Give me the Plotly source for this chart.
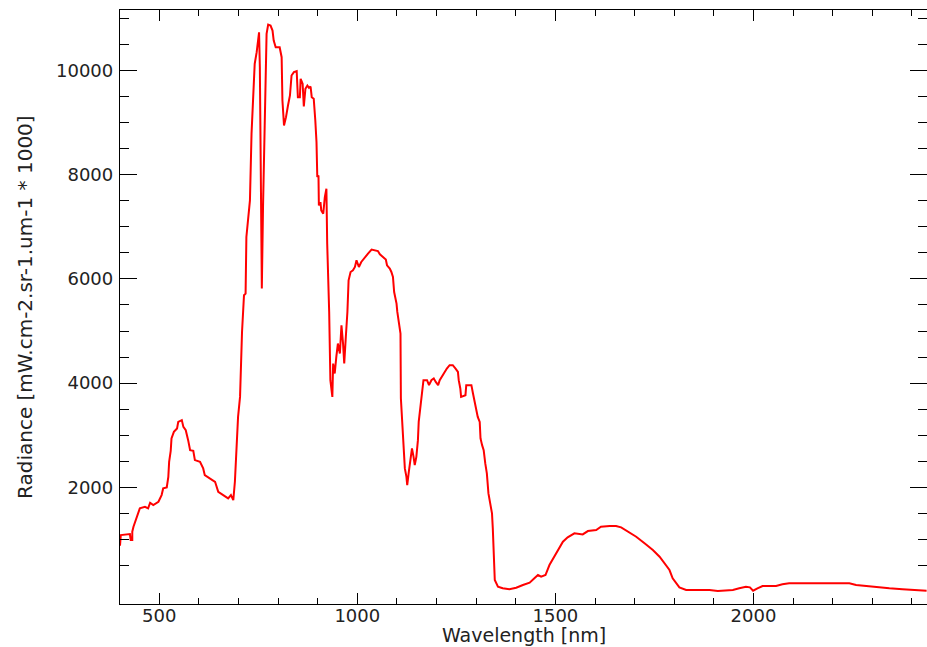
import plotly.graph_objects as go

# Wavelength (nm) and radiance values
wavelength = [401, 403, 426, 428, 432, 432, 435, 443, 451, 464, 472, 477, 485, 498, 506, 510, 519, 523, 525, 529, 531, 537, 545, 548, 557, 561, 567, 573, 578, 586, 590, 603, 611, 615, 628, 641, 649, 661, 674, 681, 687,
              691, 695, 699, 704, 705, 709, 714, 718, 720, 724, 729, 733, 737, 741, 746, 750, 752, 754, 757, 759, 762, 767, 771, 775, 781, 786, 789, 794, 804, 809, 811, 815, 820, 825, 830, 834, 840, 847, 850, 855, 857, 862, 865, 869, 874, 878, 882, 885, 890, 894, 897, 899, 902, 903, 907, 909, 914, 918, 922, 924, 929, 932, 937,
              939, 943, 947, 951, 956, 960, 964, 967, 971, 975, 978, 983, 989, 994, 998, 1004, 1010, 1019, 1027, 1036, 1044, 1052, 1057, 1065, 1072, 1075, 1082, 1086, 1090, 1093, 1099, 1101, 1105, 1109, 1110, 1115, 1120, 1124, 1126, 1130, 1134, 1138, 1142, 1145, 1149, 1153, 1155, 1160, 1164, 1167, 1176, 1181, 1187, 1193, 1198, 1204, 1208, 1215, 1220, 1226, 1233, 1241, 1248, 1254, 1256, 1260, 1262, 1267, 1273, 1275, 1288, 1292, 1296, 1300, 1304, 1309, 1311, 1315, 1319, 1323, 1327, 1331, 1336, 1340, 1342, 1344, 1347, 1355, 1367, 1384, 1401, 1418, 1435, 1447, 1456, 1464, 1475, 1485, 1502, 1519, 1531, 1548, 1569, 1582, 1603, 1615, 1637, 1653, 1666, 1683, 1704, 1725, 1746, 1763, 1775, 1788, 1796, 1813, 1830, 1855, 1889, 1910, 1931, 1948, 1964, 1981, 1991, 1999, 2010, 2023, 2057, 2073, 2090, 2242, 2259, 2284, 2309, 2343, 2376, 2401, 2437]
radiance = [880, 1085, 1104, 990, 990, 1150, 1244, 1405, 1597, 1628, 1597, 1704, 1660, 1723, 1852, 1980, 2000, 2203, 2490, 2701, 2939, 3065, 3130, 3257, 3290, 3161, 3098, 2906, 2714, 2700, 2523, 2490, 2364, 2235, 2172, 2107, 1915, 1852, 1789, 1852, 1756,
            2107, 2682, 3353, 3736, 4100, 4982, 5686, 5718, 6804, 7156, 7507, 8786, 9583, 10127, 10350, 10702, 10733, 10062, 7315, 5814, 7378, 8912, 10702, 10881, 10862, 10766, 10574, 10446, 10446, 10254, 9424, 8945, 9104, 9328, 9520, 9903, 9967, 9986, 9487, 9487, 9840, 9744, 9309, 9648, 9711, 9667, 9692, 9487, 9457, 9040, 8625, 7954, 7986, 7411, 7474, 7315, 7252, 7570, 7731, 6677, 5366, 4056, 3736,
            4376, 4185, 4503, 4760, 4568, 5111, 4760, 4376, 4886, 5366, 5973, 6133, 6165, 6229, 6357, 6229, 6325, 6420, 6485, 6562, 6549, 6535, 6472, 6420, 6370, 6261, 6198, 6133, 6037, 5749, 5527, 5366, 5143, 4952, 3706, 3035, 2364, 2203, 2044, 2299, 2555, 2747, 2586, 2427, 2586, 2906, 3257, 3545, 3865, 4056, 4056, 3961, 4056, 4088, 4024, 3961, 4056, 4152, 4216, 4280, 4344, 4344, 4280, 4216, 4056, 3897, 3736, 3750, 3769, 3961, 3961, 3801, 3640, 3514, 3353, 3257, 2939, 2810, 2714, 2459, 2268, 1884, 1700, 1500, 1213, 797, 222, 94, 63, 44, 75, 127, 171, 255, 318, 286, 318, 510, 734, 957, 1041, 1118, 1098, 1162, 1181, 1244, 1258, 1258, 1233, 1148, 1052, 926, 797, 669, 542, 414, 255, 82, 31, 31, 31, 10, 17, 31, 63, 94, 82, 17, 63, 107, 107, 140, 159, 159, 127, 107, 82, 63, 44, 31, 17]

x_ticks = [500, 1000, 1500, 2000]
y_ticks = [2000, 4000, 6000, 8000, 10000]
x_minor = list(range(500, 2500, 100))
y_minor = list(range(500, 11500, 500))

fig = go.Figure()
fig.add_trace(go.Scatter(x=wavelength, y=radiance, mode="lines",
                         line=dict(color="#ff0000", width=2),
                         showlegend=False, hoverinfo="skip"))

tickfont = dict(family="DejaVu Sans", size=18, color="#222222")
axis_common = dict(showline=True, linecolor="black", linewidth=1.3, mirror="ticks",
                   ticks="inside", tickcolor="black", tickwidth=1.3,
                   showgrid=False, zeroline=False, tickfont=tickfont)

fig.update_xaxes(range=[401, 2438], tickmode="array", tickvals=x_ticks,
                 ticktext=[str(v) for v in x_ticks], ticklen=11,
                 minor=dict(tickmode="array", tickvals=x_minor, ticklen=6,
                            ticks="inside", tickcolor="black", tickwidth=1.3),
                 ticklabelstandoff=-5, **axis_common)
fig.update_yaxes(range=[-238, 11160], tickmode="array", tickvals=y_ticks,
                 ticktext=[str(v) for v in y_ticks], ticklen=17,
                 minor=dict(tickmode="array", tickvals=y_minor, ticklen=9,
                            ticks="inside", tickcolor="black", tickwidth=1.3),
                 ticklabelstandoff=2, **axis_common)

fig.update_layout(
    width=927, height=647,
    margin=dict(l=120, r=0, t=10, b=43),
    paper_bgcolor="white", plot_bgcolor="white",
    annotations=[
        dict(text="Wavelength [nm]", xref="paper", yref="paper", x=0.5, y=0,
             xanchor="center", yanchor="top", yshift=-18, showarrow=False,
             font=dict(family="DejaVu Sans", size=19, color="#222222")),
        dict(text="Radiance [mW.cm-2.sr-1.um-1 * 1000]", xref="paper", yref="paper",
             x=0, y=0.5, xanchor="center", yanchor="middle", xshift=-95,
             textangle=-90, showarrow=False,
             font=dict(family="DejaVu Sans", size=20, color="#222222")),
    ],
)

fig.write_html("out.html", config={"displayModeBar": False},
               post_script="document.body.style.margin='0';document.body.style.overflow='hidden';")
